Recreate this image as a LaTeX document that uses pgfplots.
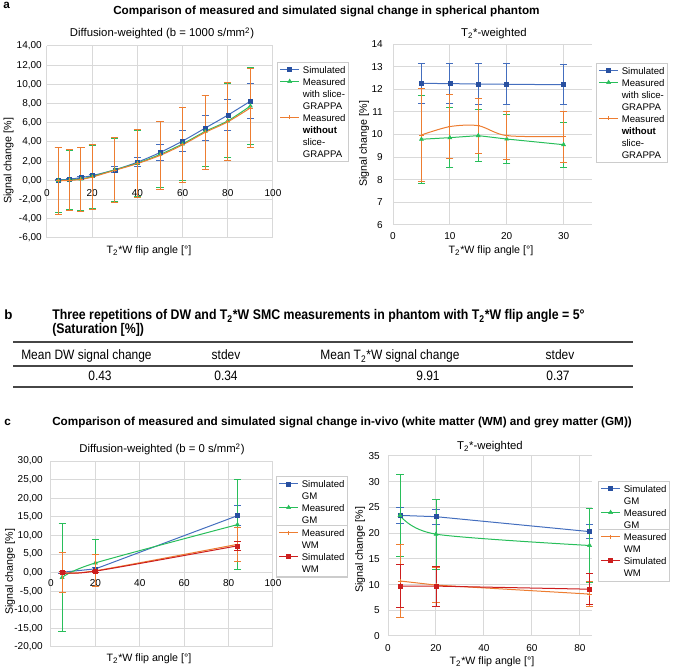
\documentclass[border=0pt]{standalone}
\usepackage{pgfplots}
\pgfplotsset{compat=1.18}
\usepackage{fontspec}
\setmainfont{Liberation Sans}
\newfontfamily\narrowfont[FakeStretch=0.88]{Liberation Sans}

\definecolor{cblue}{RGB}{68,110,190}
\definecolor{cblueD}{RGB}{40,80,160}
\definecolor{cgreen}{RGB}{40,190,90}
\definecolor{corange}{RGB}{237,125,49}
\definecolor{cred}{RGB}{205,30,30}
\definecolor{cgrid}{RGB}{217,217,217}
\definecolor{crule}{RGB}{70,70,70}

\pgfplotsset{
  excel/.style={
    scale only axis,
    axis line style={draw=none},
    major tick length=0pt,
    grid=major,
    major grid style={draw=cgrid, line width=0.75pt},
    tick label style={font=\fontsize{7.5}{9}\selectfont},
    /pgf/number format/assume math mode=true,
    clip=false,
    legend cell align=left,
    legend style={draw=gray!40, line width=0.8pt, inner xsep=1.7pt, inner ysep=1.5pt,
      anchor=north west, font=\fontsize{7.2}{9}\selectfont,
      cells={align=left}, nodes={inner sep=0.5pt}, row sep=0pt, column sep=2pt},
    error bars/y dir=both,
    error bars/y explicit,
    error bars/error bar style={line width=0.7pt},
    error bars/error mark options={rotate=90, mark size=2.7pt, line width=0.7pt},
  },
  limg/.style={legend image code/.code={\path (0pt,-#1-2pt) (0pt,#1+2pt);
     \draw[mark repeat=2,mark phase=2] plot coordinates {(0pt,#1)(7pt,#1)(14pt,#1)};}},
  sim/.style={color=cblue, line width=0.75pt, mark=square*, mark size=1.5pt, mark options={fill=cblueD, draw=cblueD, line width=0.4pt}},
  mgs/.style={color=cgreen, line width=0.75pt, mark=triangle*, mark size=1.7pt, mark options={fill=cgreen, draw=cgreen, line width=0.4pt}},
  mos/.style={color=corange, line width=0.75pt, mark=+, mark size=1.6pt, mark options={line width=0.6pt}},
  swm/.style={color=cred, line width=0.75pt, mark=square*, mark size=1.5pt, mark options={fill=cred, draw=cred, line width=0.4pt}},
}

\tikzset{
  axlab/.style={inner sep=0pt, font=\fontsize{8}{9.6}\selectfont},
  subt/.style={inner sep=0pt, font=\fontsize{8.5}{10}\selectfont},
  ttl/.style={inner sep=0pt, font=\bfseries\fontsize{8.8}{10.5}\selectfont},
  tab/.style={inner sep=0pt, font=\narrowfont\fontsize{10.2}{12}\selectfont},
  btab/.style={inner sep=0pt, font=\narrowfont\bfseries\fontsize{10.5}{12}\selectfont}}

\begin{document}
\begin{tikzpicture}
\begin{scope}[x=0.75pt,y=0.75pt]
\useasboundingbox (0,0) rectangle (676,-670);
\end{scope}

% ================= a-left =================
\begin{axis}[excel, at={(35.25pt,-178.5pt)}, anchor=south west, width=169.5pt, height=144pt,
  xmin=0, xmax=100, ymin=-6, ymax=14, xtick={0,20,40,60,80,100}, ytick={-6,-4,-2,0,2,4,6,8,10,12,14},
  xticklabel style={anchor=center, yshift=34pt},
  yticklabel style={anchor=east, inner sep=0pt, xshift=-3.75pt, /pgf/number format/.cd, fixed, fixed zerofill, precision=2, use comma},
  legend style={at={(1.018,0.917)}}]
\addplot[sim, smooth, limg=0.5pt] table[x=x, y=y, y error=e, row sep=\\] {
x y e\\ 5 0.05 0.06\\ 10 0.12 0.08\\ 15 0.3 0.1\\ 20 0.5 0.12\\ 30 1.1 0.3\\ 40 1.9 0.5\\
50 2.9 0.8\\ 60 4.1 1.05\\ 70 5.45 1.3\\ 80 6.8 1.6\\ 90 8.25 1.85\\};
\addlegendentry{\strut Simulated}
\addplot[mgs, smooth, limg=9.5pt] table[x=x, y=y, y error=e, row sep=\\] {
x y e\\ 5 0.0 3.38\\ 10 0.05 3.1\\ 15 0.15 3.25\\ 20 0.4 3.28\\ 30 1.1 3.28\\ 40 1.8 3.43\\
50 2.7 3.48\\ 60 3.8 3.78\\ 70 5.1 3.7\\ 80 6.2 3.85\\ 90 7.75 4.0\\};
\addlegendentry{\strut Measured\\with slice-\\GRAPPA\strut}
\addplot[mos, smooth, limg=14pt] table[x=x, y=y, y error=e, row sep=\\] {
x y e\\ 5 -0.05 3.45\\ 10 0.0 3.18\\ 15 0.1 3.35\\ 20 0.35 3.4\\ 30 1.05 3.38\\ 40 1.75 3.55\\
50 2.6 3.58\\ 60 3.7 3.88\\ 70 5.0 3.83\\ 80 6.1 4.05\\ 90 7.55 4.15\\};
\addlegendentry{\strut Measured\\\textbf{without}\\slice-\\GRAPPA\strut}
\end{axis}

% ================= a-right =================
\begin{axis}[excel, at={(294.75pt,-168.75pt)}, anchor=south west, width=149.25pt, height=135.75pt,
  xmin=0, xmax=35, ymin=6, ymax=14, xtick={0,10,20,30}, ytick={6,7,8,9,10,11,12,13,14},
  xticklabel style={anchor=center, yshift=-8.25pt},
  yticklabel style={anchor=east, inner sep=0pt, xshift=-7.5pt},
  legend style={at={(1.020,0.895)}}]
\addplot[sim, limg=0.5pt] table[x=x, y=y, y error=e, row sep=\\] {
x y e\\ 5 12.26 0.9\\ 10 12.25 0.9\\ 15 12.23 0.9\\ 20 12.22 0.9\\ 30 12.2 0.88\\};
\addlegendentry{\strut Simulated}
\addplot[mgs, limg=9.5pt] table[x=x, y=y, y error=e, row sep=\\] {
x y e\\ 5 9.79 1.95\\ 10 9.86 1.33\\ 15 9.95 1.16\\ 20 9.8 1.1\\ 30 9.55 1.0\\};
\addlegendentry{\strut Measured\\with slice-\\GRAPPA\strut}
\addplot[mos, smooth, limg=14pt] table[x=x, y=y, y error=e, row sep=\\] {
x y e\\ 5 9.98 2.06\\ 10 10.35 1.43\\ 15 10.39 1.22\\ 20 9.95 1.05\\ 30 9.91 1.13\\};
\addlegendentry{\strut Measured\\\textbf{without}\\slice-\\GRAPPA\strut}
\end{axis}

% ================= c-left =================
\begin{axis}[excel, at={(38.25pt,-485.25pt)}, anchor=south west, width=166.5pt, height=139.5pt,
  xmin=0, xmax=100, ymin=-20, ymax=30, xtick={0,20,40,60,80,100}, ytick={-20,-15,-10,-5,0,5,10,15,20,25,30},
  xticklabel style={anchor=center, yshift=47.8pt},
  yticklabel style={anchor=east, inner sep=0pt, xshift=-6pt, /pgf/number format/.cd, fixed, fixed zerofill, precision=2, use comma},
  legend style={at={(1.0135,0.919)}}]
\addplot[sim, limg=5pt] table[x=x, y=y, y error=e, row sep=\\] {
x y e\\ 5 0.1 0.3\\ 20 1.0 0.5\\ 84 15.3 2.75\\};
\addlegendentry{\strut Simulated\\GM\strut}
\addplot[mgs, smooth, limg=5pt] table[x=x, y=y, y error=e, row sep=\\] {
x y e\\ 5 -1.3 14.4\\ 20 2.6 6.2\\ 84 12.9 12.05\\};
\addlegendentry{\strut Measured\\GM\strut}
\end{axis}
\begin{axis}[excel, at={(38.25pt,-485.25pt)}, anchor=south west, width=166.5pt, height=139.5pt,
  xmin=0, xmax=100, ymin=-20, ymax=30, grid=none, xtick=\empty, ytick=\empty,
  legend style={at={(1.0135,0.656)}}]
\addplot[mos, smooth, limg=5pt] table[x=x, y=y, y error=e, row sep=\\] {
x y e\\ 5 0.0 5.3\\ 20 0.5 4.3\\ 84 7.6 4.5\\};
\addlegendentry{\strut Measured\\WM\strut}
\addplot[swm, smooth, limg=5pt] table[x=x, y=y, y error=e, row sep=\\] {
x y e\\ 5 0.0 0.2\\ 20 0.4 0.3\\ 84 7.2 1.2\\};
\addlegendentry{\strut Simulated\\WM\strut}
\end{axis}

% ================= c-right =================
\begin{axis}[excel, at={(291pt,-477pt)}, anchor=south west, width=153pt, height=135pt,
  xmin=0, xmax=85, ymin=0, ymax=35, xtick={0,20,40,60,80}, ytick={0,5,10,15,20,25,30,35},
  xticklabel style={anchor=center, yshift=-9pt},
  yticklabel style={anchor=east, inner sep=0pt, xshift=-6pt},
  legend style={at={(1.0294,0.861)}}]
\addplot[sim, limg=5pt] table[x=x, y=y, y error=e, row sep=\\] {
x y e\\ 5 23.45 1.5\\ 20 23.2 1.45\\ 84 20.3 1.3\\};
\addlegendentry{\strut Simulated\\GM\strut}
\addplot[mgs, smooth, limg=5pt] table[x=x, y=y, y error=e, row sep=\\] {
x y e\\ 5 23.45 8.05\\ 20 19.8 6.8\\ 84 17.6 7.2\\};
\addlegendentry{\strut Measured\\GM\strut}
\end{axis}
\begin{axis}[excel, at={(291pt,-477pt)}, anchor=south west, width=153pt, height=135pt,
  xmin=0, xmax=85, ymin=0, ymax=35, grid=none, xtick=\empty, ytick=\empty,
  legend style={at={(1.0294,0.594)}}]
\addplot[mos, limg=5pt] table[x=x, y=y, y error=e, row sep=\\] {
x y e\\ 5 10.7 7.1\\ 20 9.9 3.45\\ 84 8.15 2.4\\};
\addlegendentry{\strut Measured\\WM\strut}
\addplot[swm, limg=5pt] table[x=x, y=y, y error=e, row sep=\\] {
x y e\\ 5 9.7 4.2\\ 20 9.7 3.9\\ 84 9.1 3.0\\};
\addlegendentry{\strut Simulated\\WM\strut}
\end{axis}

\begin{scope}[x=0.75pt,y=0.75pt]
% ================= texts panel a =================
\node[ttl, anchor=base west] at (3,-8.5) {a};
\node[ttl, anchor=base west] at (113,-15) {Comparison of measured and simulated signal change in spherical phantom};
\node[subt, anchor=base] at (162,-37) {Diffusion-weighted (b = 1000 s/mm\textsuperscript{2})};
\node[subt, anchor=base] at (494,-37) {T\textsubscript{2}*-weighted};
\node[axlab, rotate=90] at (8.5,-161) {Signal change [\%]};
\node[axlab, rotate=90] at (364,-144) {Signal change [\%]};
\node[axlab, anchor=base] at (149,-254) {T\textsubscript{2}*W flip angle [°]};
\node[axlab, anchor=base] at (491,-254) {T\textsubscript{2}*W flip angle [°]};

% ================= panel b =================
\node[ttl, anchor=base west, font=\bfseries\fontsize{10}{12}\selectfont] at (4,-320) {b};
\node[btab, anchor=base west] at (52,-320) {Three repetitions of DW and T\textsubscript{2}*W SMC measurements in phantom with T\textsubscript{2}*W flip angle = 5°};
\node[btab, anchor=base west] at (52,-334) {(Saturation [\%])};
\draw[crule, line width=1.5pt] (13,-342) -- (633,-342);
\draw[crule, line width=1pt] (13,-366) -- (633,-366);
\draw[crule, line width=1pt] (13,-387) -- (633,-387);
\node[tab, anchor=base west] at (21,-360) {Mean DW signal change};
\node[tab, anchor=base] at (226,-360) {stdev};
\node[tab, anchor=base] at (390,-360) {Mean T\textsubscript{2}*W signal change};
\node[tab, anchor=base] at (560,-360) {stdev};
\node[tab, anchor=base] at (100,-381) {0.43};
\node[tab, anchor=base] at (226,-381) {0.34};
\node[tab, anchor=base] at (428,-381) {9.91};
\node[tab, anchor=base] at (558,-381) {0.37};

% ================= texts panel c =================
\node[ttl, anchor=base west] at (4,-426) {c};
\node[ttl, anchor=base west] at (52,-426) {Comparison of measured and simulated signal change in-vivo (white matter (WM) and grey matter (GM))};
\node[subt, anchor=base] at (162,-453) {Diffusion-weighted (b = 0 s/mm\textsuperscript{2})};
\node[subt, anchor=base] at (490,-450) {T\textsubscript{2}*-weighted};
\node[axlab, rotate=90] at (10,-572) {Signal change [\%]};
\node[axlab, rotate=90] at (360,-550) {Signal change [\%]};
\node[axlab, anchor=base] at (149,-662) {T\textsubscript{2}*W flip angle [°]};
\node[axlab, anchor=base] at (492,-665) {T\textsubscript{2}*W flip angle [°]};
\end{scope}
\end{tikzpicture}
\end{document}
